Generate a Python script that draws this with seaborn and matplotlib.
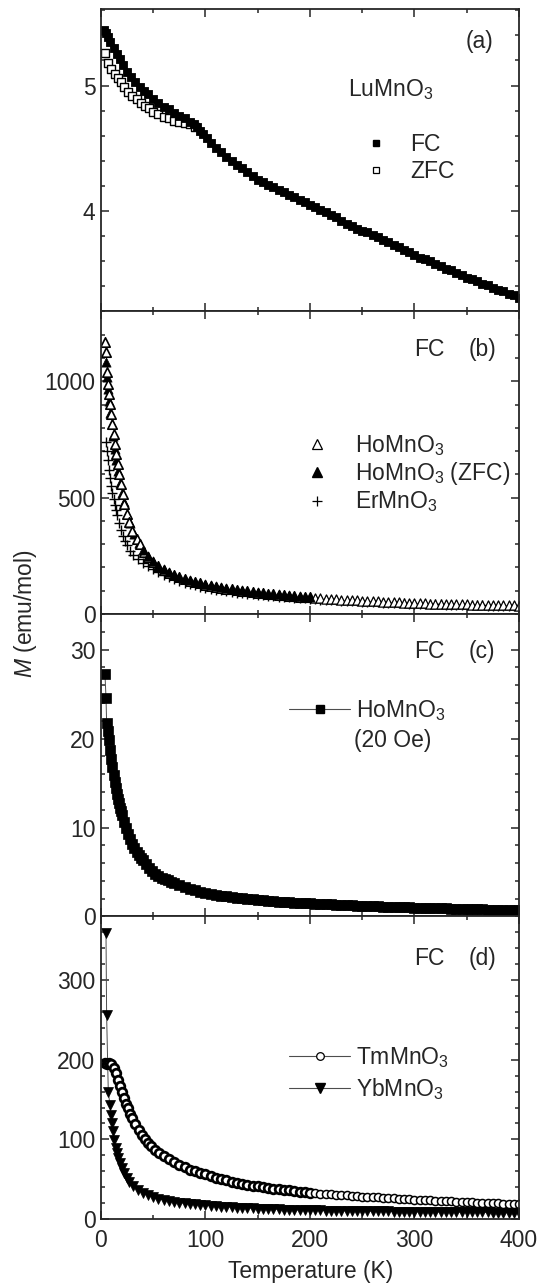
import matplotlib
matplotlib.use("Agg")
import matplotlib.pyplot as plt
from matplotlib.lines import Line2D
from matplotlib.ticker import MultipleLocator
import seaborn as sns

# ---- data (T in K, M in emu/mol) ----
# (a) LuMnO3
lu_fc_t = [3, 5, 7, 9, 12, 15, 18, 21, 25, 29, 33, 37, 41, 45, 50, 55, 60, 65, 70, 75,
           80, 85, 89, 92, 95, 98, 101, 105, 110, 115, 120, 125, 130, 135, 140, 145,
           150, 155, 160, 165, 170, 175, 180, 185, 190, 195, 200, 205, 210, 215, 220,
           225, 230, 235, 240, 245, 250, 255, 260, 265, 270, 275, 280, 285, 290, 295,
           300, 305, 310, 315, 320, 325, 330, 335, 340, 345, 350, 355, 360, 365, 370,
           375, 380, 385, 390, 395, 400]
lu_fc_m = [5.44, 5.42, 5.39, 5.35, 5.30, 5.25, 5.21, 5.16, 5.11, 5.07, 5.03, 4.99, 4.96,
           4.93, 4.89, 4.86, 4.83, 4.81, 4.78, 4.76, 4.74, 4.71, 4.69, 4.67, 4.64, 4.61,
           4.58, 4.54, 4.50, 4.47, 4.43, 4.40, 4.37, 4.34, 4.31, 4.28, 4.25, 4.23, 4.21,
           4.19, 4.17, 4.15, 4.13, 4.11, 4.09, 4.07, 4.05, 4.03, 4.01, 3.99, 3.97, 3.95,
           3.92, 3.90, 3.88, 3.86, 3.84, 3.83, 3.81, 3.79, 3.77, 3.75, 3.73, 3.71, 3.69,
           3.67, 3.65, 3.63, 3.62, 3.60, 3.58, 3.56, 3.54, 3.53, 3.51, 3.49, 3.47, 3.46,
           3.44, 3.42, 3.41, 3.39, 3.37, 3.36, 3.34, 3.33, 3.31]
lu_zfc_t = [4, 7, 10, 13, 16, 19, 22, 26, 30, 34, 38, 42, 46, 50, 55, 60, 65, 70, 75, 80,
            85, 90]
lu_zfc_m = [5.26, 5.18, 5.13, 5.09, 5.06, 5.03, 4.99, 4.95, 4.92, 4.89, 4.86, 4.84, 4.82,
            4.79, 4.77, 4.75, 4.74, 4.72, 4.71, 4.70, 4.69, 4.67]

# (b) HoMnO3 FC, HoMnO3 ZFC, ErMnO3
ho_fc_t = [4, 4.5, 5.5, 6.5, 7.5, 8.5, 9.5, 11, 12, 13, 14.5, 16, 17, 19, 21, 22.5, 25, 27,
           30, 34, 37, 41, 45, 50, 55, 60, 65, 70, 75, 80, 85, 90, 95, 100, 105, 110, 115,
           120, 125, 130, 135, 140, 145, 150, 155, 160, 165, 170, 175, 180, 185, 190, 195,
           200, 205, 210, 215, 220, 225, 230, 235, 240, 245, 250, 255, 260, 265, 270, 275,
           280, 285, 290, 295, 300, 305, 310, 315, 320, 325, 330, 335, 340, 345, 350, 355,
           360, 365, 370, 375, 380, 385, 390, 395, 400]
ho_fc_m = [1167, 1127, 1041, 990, 947, 904, 861, 818, 775, 732, 688, 645, 602, 559, 516,
           473, 429, 394, 357, 322, 300, 268, 245, 222, 205, 190, 177, 166, 157, 149, 142,
           136, 131, 126, 121, 117, 113, 109, 106, 103, 100, 97, 94, 92, 89, 87, 85, 83,
           81, 79, 77, 75, 73, 71, 69, 67, 66, 64, 63, 62, 60, 59, 58, 57, 56, 55, 54, 53,
           52, 51, 50, 49, 48, 47, 46.5, 46, 45, 44.5, 44, 43, 42.5, 42, 41.5, 41, 40.5,
           40, 39.5, 39, 38.5, 38, 37.5, 37, 36.5, 36]
ho_zfc_t = [4.8, 5.8, 6.8, 7.8, 9, 10.2, 11.5, 13, 14.5, 16, 18, 20, 22, 25, 28, 32, 36,
            40, 45, 50, 55, 60, 65, 70, 75, 80, 85, 90, 95, 100, 105, 110, 115, 120, 125,
            130, 135, 140, 145, 150, 155, 160, 165, 170, 175, 180, 185, 190, 195, 200]
ho_zfc_m = [1084, 1020, 965, 915, 865, 815, 765, 710, 660, 615, 565, 520, 480, 430, 390,
            345, 305, 275, 248, 226, 208, 193, 180, 169, 160, 152, 145, 139, 133, 128, 123,
            119, 115, 111, 108, 105, 102, 99, 96, 93, 91, 88, 86, 84, 82, 80, 78, 76, 74,
            72]
er_t = [5, 6, 7, 8, 9, 10, 11, 12, 13, 14, 15, 17, 19, 21, 23, 25, 28, 31, 35, 40, 45, 50,
        55, 60, 65, 70, 75, 80, 85, 90, 95, 100, 105, 110, 115, 120, 125, 130, 135, 140,
        145, 150, 155, 160, 165, 170, 175, 180, 185, 190, 195, 200, 205, 210, 215, 220,
        225, 230, 235, 240, 245, 250, 255, 260, 265, 270, 275, 280, 285, 290, 295, 300,
        305, 310, 315, 320, 325, 330, 335, 340, 345, 350, 355, 360, 365, 370, 375, 380,
        385, 390, 395, 400]
er_m = [740, 700, 660, 620, 585, 550, 520, 495, 470, 447, 426, 390, 360, 335, 313, 295,
        272, 255, 238, 220, 205, 192, 180, 169, 159, 150, 142, 135, 129, 123, 118, 113,
        109, 105, 101, 98, 95, 92, 90, 87, 85, 83, 81, 79, 77, 75, 73, 72, 70, 68, 67, 65,
        64, 62, 61, 60, 58, 57, 56, 55, 54, 53, 52, 51, 50, 49, 48, 47, 46.5, 46, 45, 44,
        43.5, 43, 42, 41.5, 41, 40, 39.5, 39, 38.5, 38, 37.5, 37, 36.5, 36, 35.5, 35,
        34.5, 34, 33.5, 33]

# (c) HoMnO3 at 20 Oe
h20_t = [3.8, 4.8, 5.4, 7, 8, 9, 10, 11, 12, 13, 14, 15, 16, 17, 18, 19, 20, 22, 24, 26,
         28, 30, 32, 34, 36, 38, 40, 43, 46, 49, 52, 55, 58, 61, 64, 67, 70, 75, 80, 85,
         90, 95, 100, 105, 110, 115, 120, 125, 130, 135, 140, 145, 150, 155, 160, 165,
         170, 175, 180, 185, 190, 195, 200, 205, 210, 215, 220, 225, 230, 235, 240, 245,
         250, 255, 260, 265, 270, 275, 280, 285, 290, 295, 300, 305, 310, 315, 320, 325,
         330, 335, 340, 345, 350, 355, 360, 365, 370, 375, 380, 385, 390, 395, 400]
h20_m = [27.3, 24.6, 21.8, 20.8, 19.85, 18.7, 17.7, 16.8, 15.9, 15.1, 14.4, 13.8, 13.2,
         12.7, 12.2, 11.8, 11.4, 10.6, 9.9, 9.3, 8.7, 8.2, 7.7, 7.3, 6.9, 6.6, 6.3, 5.85,
         5.45, 5.1, 4.8, 4.55, 4.35, 4.2, 4.05, 3.9, 3.75, 3.5, 3.3, 3.1, 2.95, 2.8, 2.67,
         2.55, 2.44, 2.34, 2.25, 2.17, 2.1, 2.03, 1.97, 1.91, 1.86, 1.81, 1.76, 1.72, 1.68,
         1.64, 1.6, 1.56, 1.53, 1.5, 1.47, 1.44, 1.41, 1.38, 1.35, 1.32, 1.3, 1.27, 1.25,
         1.22, 1.2, 1.18, 1.16, 1.14, 1.12, 1.1, 1.08, 1.06, 1.04, 1.02, 1.0, 0.98, 0.96,
         0.95, 0.93, 0.91, 0.9, 0.88, 0.87, 0.85, 0.84, 0.82, 0.81, 0.8, 0.78, 0.77, 0.76,
         0.75, 0.74, 0.72, 0.71]

# (d) TmMnO3 and YbMnO3
tm_t = [4, 6, 8, 10, 12, 14, 16, 18, 20, 22, 24, 26, 28, 30, 33, 36, 39, 42, 45, 48, 52,
        56, 60, 65, 70, 75, 80, 85, 90, 95, 100, 105, 110, 115, 120, 125, 130, 135, 140,
        145, 150, 155, 160, 165, 170, 175, 180, 185, 190, 195, 200, 205, 210, 215, 220,
        225, 230, 235, 240, 245, 250, 255, 260, 265, 270, 275, 280, 285, 290, 295, 300,
        305, 310, 315, 320, 325, 330, 335, 340, 345, 350, 355, 360, 365, 370, 375, 380,
        385, 390, 395, 400]
tm_m = [196, 195, 196, 195, 190, 183, 175, 167, 160, 152, 145, 139, 132, 127, 119, 112,
        106, 101, 96, 92, 87, 83, 79, 75, 71, 68, 65, 62, 60, 58, 56, 54, 52, 50, 48.5,
        47, 45.5, 44.3, 43, 42, 41, 40, 39, 38.2, 37.4, 36.6, 35.8, 35, 34.3, 33.6, 33,
        32.4, 31.9, 31.4, 30.9, 30.4, 30, 29.5, 29.1, 28.6, 28.2, 27.8, 27.4, 27, 26.6,
        26.2, 25.8, 25.5, 25.1, 24.8, 24.4, 24.1, 23.8, 23.4, 23.1, 22.8, 22.5, 22.2,
        21.9, 21.6, 21.3, 21, 20.7, 20.5, 20.2, 19.9, 19.7, 19.4, 19.2, 18.9, 18.7]
yb_t = [4.8, 5.4, 7, 8.6, 9.6, 10.8, 11.8, 12.8, 14, 15, 16.6, 18, 19.8, 22, 24.6, 27, 31,
        35, 40, 45, 50, 55, 60, 65, 70, 75, 80, 85, 90, 95, 100, 105, 110, 115, 120, 125,
        130, 135, 140, 145, 150, 155, 160, 165, 170, 175, 180, 185, 190, 195, 200, 205,
        210, 215, 220, 225, 230, 235, 240, 245, 250, 255, 260, 265, 270, 275, 280, 285,
        290, 295, 300, 305, 310, 315, 320, 325, 330, 335, 340, 345, 350, 355, 360, 365,
        370, 375, 380, 385, 390, 395, 400]
yb_m = [359, 256, 160, 143, 131, 120, 110, 99.5, 89, 83, 76.5, 70, 64, 57.5, 51.4, 46.5,
        41, 37, 33, 30, 27.5, 25.5, 24, 22.7, 21.6, 20.6, 19.8, 19, 18.3, 17.7, 17.1,
        16.6, 16.1, 15.6, 15.2, 14.8, 14.4, 14.0, 13.7, 13.4, 13.1, 12.8, 12.5, 12.3,
        12.0, 11.8, 11.6, 11.4, 11.2, 11.0, 10.9, 10.8, 10.7, 10.6, 10.5, 10.4, 10.3,
        10.2, 10.1, 10.0, 9.9, 9.8, 9.7, 9.6, 9.5, 9.4, 9.35, 9.3, 9.2, 9.1, 9.05, 9.0,
        8.9, 8.85, 8.8, 8.7, 8.65, 8.6, 8.5, 8.45, 8.4, 8.35, 8.3, 8.2, 8.15, 8.1, 8.05,
        8.0, 7.95, 7.9, 7.85]

sns.set_style("ticks")
plt.rcParams["font.family"] = ["Liberation Sans", "DejaVu Sans"]
plt.rcParams["mathtext.fontset"] = "custom"
plt.rcParams["mathtext.rm"] = "Liberation Sans"
plt.rcParams["mathtext.it"] = "Liberation Sans:italic"
plt.rcParams["axes.linewidth"] = 1.3
FS = 16.5

fig, axes = plt.subplots(4, 1, figsize=(5.47, 12.83), dpi=100, sharex=True,
                         gridspec_kw=dict(hspace=0))
fig.subplots_adjust(left=0.1846, right=0.9488, top=0.993, bottom=0.0499)
ax_a, ax_b, ax_c, ax_d = axes

# (a)
sns.scatterplot(x=lu_zfc_t, y=lu_zfc_m, ax=ax_a, marker="s", s=26, color="white",
                edgecolor="black", linewidth=1.0, legend=False)
sns.scatterplot(x=lu_fc_t, y=lu_fc_m, ax=ax_a, marker="s", s=40, color="black",
                edgecolor="black", linewidth=0.6, legend=False)
ax_a.set_ylim(3.2, 5.61)
ax_a.yaxis.set_major_locator(MultipleLocator(1))
ax_a.yaxis.set_minor_locator(MultipleLocator(0.2))
ax_a.text(0.873, 0.871, "(a)", transform=ax_a.transAxes, fontsize=FS, va="baseline")
ax_a.text(0.592, 0.713, "LuMnO$_3$", transform=ax_a.transAxes, fontsize=FS, va="baseline")
h_a = [Line2D([], [], ls="none", marker="s", color="black", markersize=5),
       Line2D([], [], ls="none", marker="s", markerfacecolor="white",
              markeredgecolor="black", markersize=5, mew=0.9)]
ax_a.legend(h_a, ["FC", "ZFC"], loc="center left", bbox_to_anchor=(0.631, 0.507),
            frameon=False, fontsize=FS, handlelength=1.0, handletextpad=1.0,
            labelspacing=0.2, borderpad=0, borderaxespad=0)

# (b): low-T ZFC points sit under the open FC triangles, the rest on top
n_low = 17
n_fc = 54  # FC points up to 200 K are measured densely -> heavier outline
sns.scatterplot(x=ho_zfc_t[:n_low], y=ho_zfc_m[:n_low], ax=ax_b, marker="^", s=44,
                color="black", edgecolor="black", linewidth=0.5, legend=False)
sns.scatterplot(x=er_t, y=er_m, ax=ax_b, marker="+", s=55, color="black",
                linewidth=1.0, legend=False)
sns.scatterplot(x=ho_fc_t[:n_fc], y=ho_fc_m[:n_fc], ax=ax_b, marker="^", s=46,
                color="white", edgecolor="black", linewidth=1.2, legend=False)
sns.scatterplot(x=ho_fc_t[n_fc:], y=ho_fc_m[n_fc:], ax=ax_b, marker="^", s=44,
                color="white", edgecolor="black", linewidth=0.9, legend=False)
sns.scatterplot(x=ho_zfc_t[n_low:], y=ho_zfc_m[n_low:], ax=ax_b, marker="^", s=44,
                color="black", edgecolor="black", linewidth=0.5, legend=False)
ax_b.set_ylim(0, 1300)
ax_b.yaxis.set_major_locator(MultipleLocator(500))
ax_b.yaxis.set_minor_locator(MultipleLocator(100))
h_b = [Line2D([], [], ls="none", marker="^", markerfacecolor="white",
              markeredgecolor="black", markersize=6.5, mew=0.9),
       Line2D([], [], ls="none", marker="^", color="black", markersize=6.5),
       Line2D([], [], ls="none", marker="+", color="black", markersize=6.5, mew=0.9)]
ax_b.legend(h_b, ["HoMnO$_3$", "HoMnO$_3$ (ZFC)", "ErMnO$_3$"], loc="center left",
            bbox_to_anchor=(0.490, 0.4636), frameon=False, fontsize=FS,
            handlelength=1.0, handletextpad=1.15, labelspacing=0.1, borderpad=0,
            borderaxespad=0)

# (c)
sns.lineplot(x=h20_t, y=h20_m, ax=ax_c, color="0.3", lw=0.7, marker="s", markersize=7,
             markerfacecolor="black", markeredgecolor="black", mew=0.5, legend=False)
ax_c.set_ylim(0, 34)
ax_c.yaxis.set_major_locator(MultipleLocator(10))
ax_c.yaxis.set_minor_locator(MultipleLocator(2))
h_c = [Line2D([], [], color="0.3", lw=0.8, marker="s", markersize=6,
              markerfacecolor="black", markeredgecolor="black")]
ax_c.legend(h_c, ["HoMnO$_3$"], loc="center left", bbox_to_anchor=(0.450, 0.682),
            frameon=False, fontsize=FS, handlelength=2.67, handletextpad=0.24,
            borderpad=0, borderaxespad=0)
ax_c.text(0.605, 0.56, "(20 Oe)", transform=ax_c.transAxes, fontsize=FS, va="baseline")

# (d)
n_tm = 51  # TmMnO3 up to 200 K: dense data, circles merge into a dark band
sns.lineplot(x=yb_t, y=yb_m, ax=ax_d, color="0.3", lw=0.7, marker="v", markersize=7.5,
             markerfacecolor="black", markeredgecolor="black", mew=0.5, legend=False)
sns.lineplot(x=tm_t[:n_tm], y=tm_m[:n_tm], ax=ax_d, color="0.3", lw=0.7, marker="o",
             markersize=6.2, markerfacecolor="white", markeredgecolor="black", mew=2.0,
             legend=False)
sns.lineplot(x=tm_t[n_tm - 1:], y=tm_m[n_tm - 1:], ax=ax_d, color="0.3", lw=0.7,
             marker="o", markersize=5.8, markerfacecolor="white", markeredgecolor="black",
             mew=1.1, legend=False)
ax_d.set_ylim(0, 380)
ax_d.yaxis.set_major_locator(MultipleLocator(100))
ax_d.yaxis.set_minor_locator(MultipleLocator(20))
h_d = [Line2D([], [], color="0.3", lw=0.8, marker="o", markersize=5.5,
              markerfacecolor="white", markeredgecolor="black", mew=0.9),
       Line2D([], [], color="0.3", lw=0.8, marker="v", markersize=7,
              markerfacecolor="black", markeredgecolor="black")]
ax_d.legend(h_d, ["TmMnO$_3$", "YbMnO$_3$"], loc="center left",
            bbox_to_anchor=(0.450, 0.481), frameon=False, fontsize=FS,
            handlelength=2.67, handletextpad=0.24, labelspacing=0.3, borderpad=0,
            borderaxespad=0)

for ax, lab, fy in [(ax_b, "(b)", 0.852), (ax_c, "(c)", 0.853), (ax_d, "(d)", 0.838)]:
    ax.text(0.750, fy, "FC", transform=ax.transAxes, fontsize=FS, va="baseline")
    ax.text(0.879, fy, lab, transform=ax.transAxes, fontsize=FS, va="baseline")

for ax in axes:
    ax.set_xlim(0, 400)
    ax.xaxis.set_major_locator(MultipleLocator(100))
    ax.xaxis.set_minor_locator(MultipleLocator(50))
    ax.tick_params(which="both", direction="in", top=True, right=True,
                   labelsize=FS, width=1.1)
    ax.tick_params(which="major", length=6)
    ax.tick_params(which="minor", length=3)
    ax.tick_params(axis="y", pad=4)
    ax.tick_params(axis="x", pad=7)
    ax.set_xlabel("")
    ax.set_ylabel("")
for ax in axes[:-1]:
    ax.tick_params(labelbottom=False)

fig.text(0.0475, 0.5214, "$M$ (emu/mol)", rotation=90, ha="center", va="center",
         fontsize=FS)
fig.text(0.567, 0.009, "Temperature (K)", ha="center", va="center", fontsize=FS)

fig.savefig("out.png", dpi=100)
